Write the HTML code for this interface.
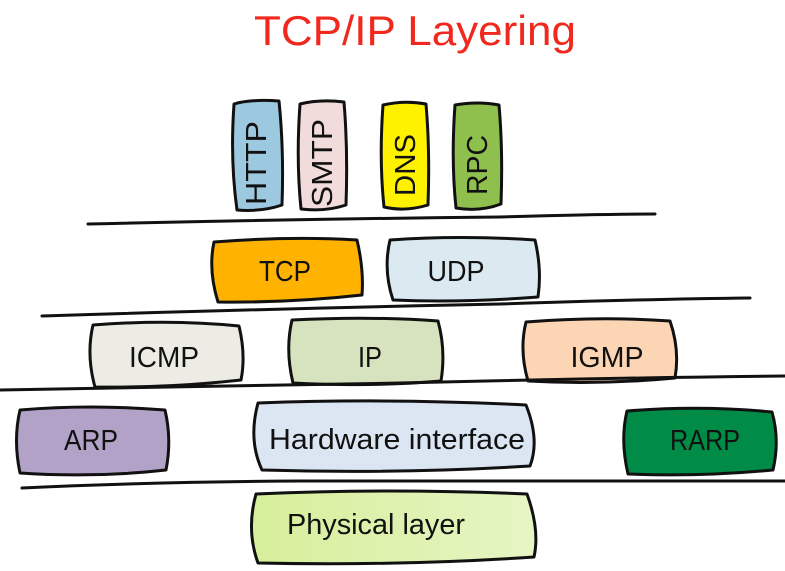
<!DOCTYPE html>
<html><head><meta charset="utf-8"><style>
html,body{margin:0;padding:0;background:#fff;width:785px;height:571px;overflow:hidden}
svg{display:block}
text{font-family:"Liberation Sans",sans-serif;fill:#111}
</style></head><body>
<svg width="785" height="571" viewBox="0 0 785 571" xmlns="http://www.w3.org/2000/svg">
<text x="415" y="45" text-anchor="middle" style="fill:#f0281e;font-size:42px" textLength="322" lengthAdjust="spacingAndGlyphs">TCP/IP Layering</text>
<g stroke="#111" stroke-width="3" stroke-linejoin="round">
<path d="M234 104 Q250 99 279 101 Q284 150 282 205 Q262 212 237 210 Q230 160 234 104Z" fill="#9dc9e0"/>
<path d="M300 104 Q320 99 344 102 Q348 150 346 205 Q325 212 301 209 Q296 160 300 104Z" fill="#f2dcdb"/>
<path d="M383 105 Q405 100 426 104 Q430 150 428 205 Q405 212 384 207 Q379 160 383 105Z" fill="#fff200"/>
<path d="M455 105 Q478 101 499 105 Q503 150 501 204 Q480 212 456 208 Q451 160 455 105Z" fill="#8fbf4d"/>
<path d="M214 242 Q290 236 357 240 Q364 270 362 295 Q290 303 218 302 Q208 270 214 242Z" fill="#ffb200"/>
<path d="M390 240 Q460 235 535 240 Q542 270 538 297 Q460 303 393 300 Q383 270 390 240Z" fill="#dbeaf1"/>
<path d="M93 325 Q170 319 239 326 Q246 355 241 380 Q170 388 95 387 Q86 355 93 325Z" fill="#edece4"/>
<path d="M292 320 Q370 316 438 321 Q446 350 441 381 Q370 387 293 383 Q285 350 292 320Z" fill="#d7e2bf"/>
<path d="M526 322 Q600 316 670 321 Q680 350 675 378 Q600 385 528 381 Q519 350 526 322Z" fill="#fcd5b4"/>
<path d="M20 410 Q90 404 165 410 Q172 440 166 470 Q95 478 20 473 Q13 440 20 410Z" fill="#b2a2c7"/>
<path d="M258 403 Q390 398 526 405 Q540 440 530 466 Q400 474 262 470 Q248 440 258 403Z" fill="#dce6f2"/>
<path d="M627 411 Q700 405 772 412 Q780 440 773 470 Q700 477 628 474 Q620 440 627 411Z" fill="#008c46"/>
<defs><linearGradient id="pg" x1="0" x2="1"><stop offset="0" stop-color="#d6ef9a"/><stop offset="1" stop-color="#e6f5c4"/></linearGradient></defs>
<path d="M256 494 Q390 488 527 494 Q540 530 534 557 Q400 566 258 563 Q246 530 256 494Z" fill="url(#pg)"/>
</g>
<g fill="none" stroke="#111" stroke-width="3" stroke-linecap="round">
<path d="M88 224 Q300 219 500 217 Q600 214 655 214"/>
<path d="M42 316 Q300 308 500 304 Q650 299 750 298"/>
<path d="M0 390 Q200 386 400 383 Q600 378 785 376"/>
<path d="M22 488 Q150 482 300 481 Q600 480 785 481"/>
</g>
<g style="font-size:29px" lengthAdjust="spacingAndGlyphs">
<text transform="translate(256 163) rotate(-90)" dy="10" text-anchor="middle" textLength="84" lengthAdjust="spacingAndGlyphs">HTTP</text>
<text transform="translate(322 163) rotate(-90)" dy="10" text-anchor="middle" textLength="88" lengthAdjust="spacingAndGlyphs">SMTP</text>
<text transform="translate(405 165) rotate(-90)" dy="10" text-anchor="middle" textLength="62" lengthAdjust="spacingAndGlyphs">DNS</text>
<text transform="translate(477 165) rotate(-90)" dy="10" text-anchor="middle" textLength="60" lengthAdjust="spacingAndGlyphs">RPC</text>
<text x="285" y="281" text-anchor="middle" textLength="52" lengthAdjust="spacingAndGlyphs">TCP</text>
<text x="456" y="281" text-anchor="middle" textLength="57" lengthAdjust="spacingAndGlyphs">UDP</text>
<text x="164" y="367" text-anchor="middle" textLength="70" lengthAdjust="spacingAndGlyphs">ICMP</text>
<text x="370" y="367" text-anchor="middle" textLength="24" lengthAdjust="spacingAndGlyphs">IP</text>
<text x="607" y="367" text-anchor="middle" textLength="73" lengthAdjust="spacingAndGlyphs">IGMP</text>
<text x="91" y="450" text-anchor="middle" textLength="54" lengthAdjust="spacingAndGlyphs">ARP</text>
<text x="397" y="449" text-anchor="middle" textLength="256" lengthAdjust="spacingAndGlyphs">Hardware interface</text>
<text x="705" y="450" text-anchor="middle" textLength="70" lengthAdjust="spacingAndGlyphs">RARP</text>
<text x="376" y="534" text-anchor="middle" textLength="178" lengthAdjust="spacingAndGlyphs">Physical layer</text>
</g>
</svg>
</body></html>
